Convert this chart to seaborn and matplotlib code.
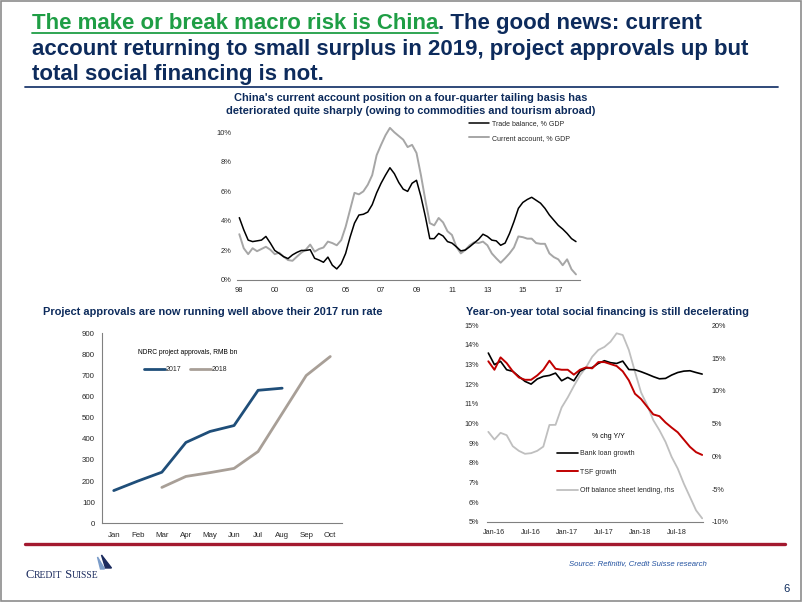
import numpy as np
import pandas as pd
import matplotlib
matplotlib.use('Agg')
import matplotlib.pyplot as plt
import seaborn as sns
from matplotlib.lines import Line2D
from matplotlib.patches import Rectangle, Polygon

# ---------------- data ----------------
ca_tick_labels = ['98', '00', '03', '05', '07', '09', '11', '13', '15', '17']
trade_balance = [4.22, 3.4, 2.7, 2.6, 2.65, 2.7, 2.95, 2.5, 2.0, 1.8, 1.58, 1.45, 1.7, 1.87, 2.0, 2.0,
                 2.05, 1.47, 1.35, 1.2, 1.55, 1.0, 0.75, 1.1, 1.8, 2.9, 3.85, 4.4, 4.45, 4.6, 5.1, 5.9,
                 6.55, 7.1, 7.6, 7.2, 6.6, 6.15, 6.0, 6.55, 6.75, 5.65, 4.3, 2.8, 2.8, 3.15, 2.98, 2.6,
                 2.5, 2.25, 1.97, 2.03, 2.25, 2.5, 2.75, 3.1, 2.95, 2.7, 2.65, 2.35, 2.5, 3.15, 3.95, 4.85,
                 5.25, 5.45, 5.6, 5.4, 5.2, 4.85, 4.4, 4.05, 3.7, 3.45, 3.15, 2.8, 2.6]
current_account = [3.1, 2.15, 1.75, 2.15, 1.95, 2.1, 2.25, 2.05, 1.75, 1.85, 1.58, 1.35, 1.3, 1.58, 1.85, 2.05,
                   2.4, 1.92, 2.1, 2.2, 2.6, 2.5, 2.35, 2.7, 3.6, 4.75, 5.9, 5.8, 6.0, 6.45, 7.1, 8.45,
                   9.15, 9.8, 10.3, 10.0, 9.75, 9.5, 9.0, 9.15, 8.6, 7.1, 5.4, 3.85, 3.7, 4.2, 3.9, 3.3,
                   3.05, 2.25, 1.8, 2.03, 2.35, 2.55, 2.5, 2.6, 2.35, 1.8, 1.47, 1.17, 1.47, 1.8, 2.2, 2.95,
                   2.9, 2.8, 2.8, 2.5, 2.45, 2.45, 1.8, 1.55, 1.4, 1.0, 1.4, 0.72, 0.38]

months = ['Jan', 'Feb', 'Mar', 'Apr', 'May', 'Jun', 'Jul', 'Aug', 'Sep', 'Oct']
approvals_2017 = [155, 200, 242, 383, 435, 463, 630, 640, np.nan, np.nan]
approvals_2018 = [np.nan, np.nan, 170, 222, 240, 260, 340, 520, 700, 790]

tsf_tick_labels = ['Jan-16', 'Jul-16', 'Jan-17', 'Jul-17', 'Jan-18', 'Jul-18']
bank_loan = [13.59, 13.0, 13.17, 12.74, 12.66, 12.4, 12.15, 12.01, 12.27, 12.4, 12.45, 12.57,
             12.18, 12.35, 12.18, 12.66, 12.83, 12.85, 13.06, 13.2, 13.1, 13.06, 13.18, 12.75,
             12.74, 12.64, 12.52, 12.39, 12.28, 12.3, 12.47, 12.6, 12.67, 12.69, 12.6, 12.52]
tsf_growth = [13.17, 12.74, 13.37, 13.08, 12.66, 12.35, 12.23, 12.23, 12.45, 12.74, 13.2, 12.79,
              12.74, 12.74, 12.49, 12.74, 12.86, 12.81, 13.13, 13.13, 13.03, 12.93, 12.66, 12.2,
              11.52, 11.25, 10.86, 10.47, 10.38, 10.06, 9.8, 9.56, 9.19, 8.82, 8.55, 8.41]
off_balance = [3.75, 2.58, 3.6, 3.24, 1.56, 0.85, 0.4, 0.5, 0.85, 1.5, 4.8, 4.82,
               7.47, 9.0, 10.73, 12.36, 13.6, 15.2, 16.23, 16.7, 17.5, 18.78, 18.52, 16.23,
               12.92, 9.76, 7.82, 5.53, 4.0, 2.22, -0.07, -1.85, -4.15, -6.18, -8.22, -9.44]

# ---------------- style ----------------
W, H = 802, 602
def fx(x): return x / W
def fy(y): return 1 - y / H

sns.set_theme(style='white')
plt.rcParams['font.family'] = ['Liberation Sans', 'DejaVu Sans']

NAVY = '#0d2b5c'
GREEN = '#1f9e45'
GRID_GREY = '#808080'
TICK_FS = 5
CHART_TITLE_FS = 7.9
TITLE_FS = 16

fig = plt.figure(figsize=(8.02, 6.02), dpi=100)
fig.patch.set_facecolor('white')

# ---------------- slide header ----------------
renderer = fig.canvas.get_renderer()
t1 = fig.text(fx(32), fy(29), 'The make or break macro risk is China', color=GREEN, fontsize=TITLE_FS,
              fontweight='bold', va='baseline', ha='left')
bb = t1.get_window_extent(renderer=renderer)
fig.add_artist(Line2D([bb.x0 / W, bb.x1 / W], [fy(32.5), fy(32.5)], color=GREEN, lw=1.3))
fig.text(bb.x1 / W, fy(29), '. The good news: current', color=NAVY, fontsize=TITLE_FS,
         fontweight='bold', va='baseline', ha='left')
fig.text(fx(32), fy(55), 'account returning to small surplus in 2019, project approvals up but', color=NAVY,
         fontsize=TITLE_FS, fontweight='bold', va='baseline', ha='left')
fig.text(fx(32), fy(80), 'total social financing is not.', color=NAVY,
         fontsize=TITLE_FS, fontweight='bold', va='baseline', ha='left')
fig.add_artist(Line2D([fx(25), fx(778)], [fy(87), fy(87)], color='#1f3a6e', lw=1.3))

# ---------------- chart 1: current account ----------------
ax1 = fig.add_axes([fx(237.1), fy(280), (580.4 - 237.1) / W, 11 * 14.77 / H])
ca_df = pd.DataFrame({'q': np.arange(len(trade_balance)),
                      'trade': trade_balance, 'ca': current_account})
sns.lineplot(data=ca_df, x='q', y='ca', ax=ax1, color='#a6a6a6', lw=1.4, zorder=2)
sns.lineplot(data=ca_df, x='q', y='trade', ax=ax1, color='black', lw=1.1, zorder=3)
ax1.set_xlim(-0.5, 77)
ax1.set_ylim(0, 11)
ax1.set_yticks(range(0, 11, 2))
ax1.set_yticklabels([f'{v}%' for v in range(0, 11, 2)])
ax1.set_xticks(range(0, 8 * len(ca_tick_labels), 8))
ax1.set_xticklabels(ca_tick_labels)
ax1.set_xlabel('')
ax1.set_ylabel('')
for s in ['left', 'right', 'top']:
    ax1.spines[s].set_visible(False)
ax1.spines['bottom'].set_color(GRID_GREY)
ax1.spines['bottom'].set_linewidth(0.8)
ax1.tick_params(axis='x', direction='out', length=3, width=0.6, color=GRID_GREY, labelsize=5.4, pad=2)
ax1.tick_params(axis='y', length=0, labelsize=5.4, pad=4)
ax1.patch.set_alpha(0)
h1 = [Line2D([], [], color='black', lw=1.1), Line2D([], [], color='#a6a6a6', lw=1.4)]
ax1.legend(h1, ['Trade balance, % GDP', 'Current account, % GDP'], loc='upper left',
           bbox_to_anchor=(fx(469), fy(120)), bbox_transform=fig.transFigure,
           frameon=False, fontsize=TICK_FS, borderpad=0, borderaxespad=0,
           handlelength=2.9, handletextpad=0.45, labelspacing=1.1)
fig.text(fx(411), fy(98), "China's current account position on a four-quarter tailing basis has",
         ha='center', va='center', fontsize=CHART_TITLE_FS, fontweight='bold', color=NAVY)
fig.text(fx(411), fy(110.7), 'deteriorated quite sharply (owing to commodities and tourism abroad)',
         ha='center', va='center', fontsize=CHART_TITLE_FS, fontweight='bold', color=NAVY)

# ---------------- chart 2: project approvals ----------------
ax2 = fig.add_axes([fx(101.7), fy(523.3), 240.6 / W, 190 / H])
appr_df = pd.DataFrame({'pos': np.arange(len(months)), '2017': approvals_2017, '2018': approvals_2018})
appr_long = appr_df.melt(id_vars='pos', var_name='year', value_name='value').dropna()
sns.lineplot(data=appr_long, x='pos', y='value', hue='year', ax=ax2,
             palette={'2017': '#1f4e79', '2018': '#a89f97'}, lw=2.0, legend=False)
ax2.set_xlim(-0.5, len(months) - 0.5)
ax2.set_ylim(0, 900)
ax2.set_yticks(range(0, 901, 100))
ax2.set_xticks(range(len(months)))
ax2.set_xticklabels(months)
ax2.set_xticks(np.arange(-0.5, len(months), 1.0), minor=True)
ax2.set_xlabel('')
ax2.set_ylabel('')
for s in ['right', 'top']:
    ax2.spines[s].set_visible(False)
for s in ['left', 'bottom']:
    ax2.spines[s].set_color(GRID_GREY)
    ax2.spines[s].set_linewidth(0.8)
ax2.tick_params(axis='x', which='major', length=0, labelsize=5.7, pad=6)
ax2.tick_params(axis='x', which='minor', direction='out', length=3, width=0.6, color=GRID_GREY)
ax2.tick_params(axis='y', direction='out', length=3, width=0.6, color=GRID_GREY,
                labelsize=5.7, pad=2)
ax2.patch.set_alpha(0)
fig.text(fx(138), fy(352), 'NDRC project approvals, RMB bn', fontsize=4.8, va='center', ha='left',
         color='black')
h2 = [Line2D([], [], color='#1f4e79', lw=2.0), Line2D([], [], color='#a89f97', lw=2.0)]
ax2.legend(h2, ['2017', '2018'], loc='upper left', ncol=2,
           bbox_to_anchor=(fx(144), fy(366.3)), bbox_transform=fig.transFigure,
           frameon=False, fontsize=TICK_FS, borderpad=0, borderaxespad=0,
           handlelength=3.0, handletextpad=0.15, columnspacing=1.25)
fig.text(fx(213), fy(312), 'Project approvals are now running well above their 2017 run rate',
         ha='center', va='center', fontsize=CHART_TITLE_FS, fontweight='bold', color=NAVY)

# ---------------- chart 3: total social financing ----------------
ax3 = fig.add_axes([fx(487.1), fy(522), 35.4 * 6.11 / W, 196.7 / H])
ax3b = ax3.twinx()
tsf_df = pd.DataFrame({'m': np.arange(len(bank_loan)), 'bank': bank_loan,
                       'tsf': tsf_growth, 'obs': off_balance})
# grey series (right scale) lives on the base axes so it is drawn underneath
sns.lineplot(data=tsf_df, x='m', y='obs', ax=ax3, color='#bfbfbf', lw=1.3)
sns.lineplot(data=tsf_df, x='m', y='bank', ax=ax3b, color='black', lw=1.2)
sns.lineplot(data=tsf_df, x='m', y='tsf', ax=ax3b, color='#c00000', lw=1.4)
ax3.set_xlim(-0.2, 35.2)
ax3.set_ylim(-10, 20)
ax3b.set_ylim(5, 15)
ax3.yaxis.tick_right()
ax3b.yaxis.tick_left()
ax3.set_yticks(range(-10, 21, 5))
ax3.set_yticklabels([f'{v}%' for v in range(-10, 21, 5)])
ax3b.set_yticks(range(5, 16, 1))
ax3b.set_yticklabels([f'{v}%' for v in range(5, 16, 1)])
ax3.set_xticks(range(0, 31, 6))
ax3.set_xticklabels([])
ax3.set_xticks([0.9 + 6 * i for i in range(len(tsf_tick_labels))], minor=True)
ax3.set_xticklabels(tsf_tick_labels, minor=True)
for a in (ax3, ax3b):
    a.set_xlabel('')
    a.set_ylabel('')
    for s in ['left', 'right', 'top']:
        a.spines[s].set_visible(False)
ax3b.spines['bottom'].set_visible(False)
ax3.spines['bottom'].set_color(GRID_GREY)
ax3.spines['bottom'].set_linewidth(0.8)
ax3.tick_params(axis='x', which='major', direction='out', length=3, width=0.6, color=GRID_GREY)
ax3.tick_params(axis='x', which='minor', length=0, labelsize=5.2, pad=5)
ax3.tick_params(axis='y', length=0, labelsize=5.2, pad=6)
ax3b.tick_params(axis='y', length=0, labelsize=5.2, pad=6)
ax3.patch.set_alpha(0)
fig.text(fx(608), fy(437), '% chg Y/Y', fontsize=TICK_FS, ha='center', va='center', color='black')
h3 = [Line2D([], [], color='black', lw=1.2), Line2D([], [], color='#c00000', lw=1.4),
      Line2D([], [], color='#bfbfbf', lw=1.3)]
ax3b.legend(h3, ['Bank loan growth', 'TSF growth', 'Off balance sheet lending, rhs'], loc='upper left',
            bbox_to_anchor=(fx(557), fy(450.3)), bbox_transform=fig.transFigure,
            frameon=False, fontsize=TICK_FS, borderpad=0, borderaxespad=0,
            handlelength=3.0, handletextpad=0.3, labelspacing=1.65)
fig.text(fx(607.5), fy(312), 'Year-on-year total social financing is still decelerating',
         ha='center', va='center', fontsize=CHART_TITLE_FS, fontweight='bold', color=NAVY)

# ---------------- footer ----------------
fig.add_artist(Line2D([fx(25), fx(785)], [fy(543.5), fy(543.5)], color='#a3192f', lw=2.4))
fig.text(fx(569), fy(565), 'Source: Refinitiv, Credit Suisse research', fontsize=5.6, style='italic',
         color='#2352a0', ha='left', va='baseline')
fig.text(fx(786), fy(592), '6', fontsize=8, color=NAVY, ha='center', va='baseline')

# logo text (small caps)
x_cur = 25
for txt, fs in [('C', 9.0), ('REDIT', 6.9), (' S', 9.0), ('UISSE', 6.9)]:
    t = fig.text(fx(x_cur), fy(578), txt, fontsize=fs, color='#1b2b5e',
                 family=['Liberation Serif', 'DejaVu Serif'], ha='left', va='baseline')
    x_cur = t.get_window_extent(renderer=renderer).x1
fig.add_artist(Polygon([[fx(x_cur - 1), fy(557)], [fx(x_cur + 6), fy(569)], [fx(x_cur + 2), fy(569)]],
                       closed=True, color='#7a9cc9', transform=fig.transFigure))
fig.add_artist(Polygon([[fx(x_cur + 3), fy(555)], [fx(x_cur + 13), fy(568)], [fx(x_cur + 7), fy(568)]],
                       closed=True, color='#1b2b5e', transform=fig.transFigure))

# slide frame
fig.add_artist(Rectangle((fx(0.8), fy(601.2)), (W - 1.6) / W, (H - 1.6) / H, fill=False,
                         edgecolor='#8c8c8c', lw=1.2, transform=fig.transFigure))

fig.savefig('out.png', dpi=100)
